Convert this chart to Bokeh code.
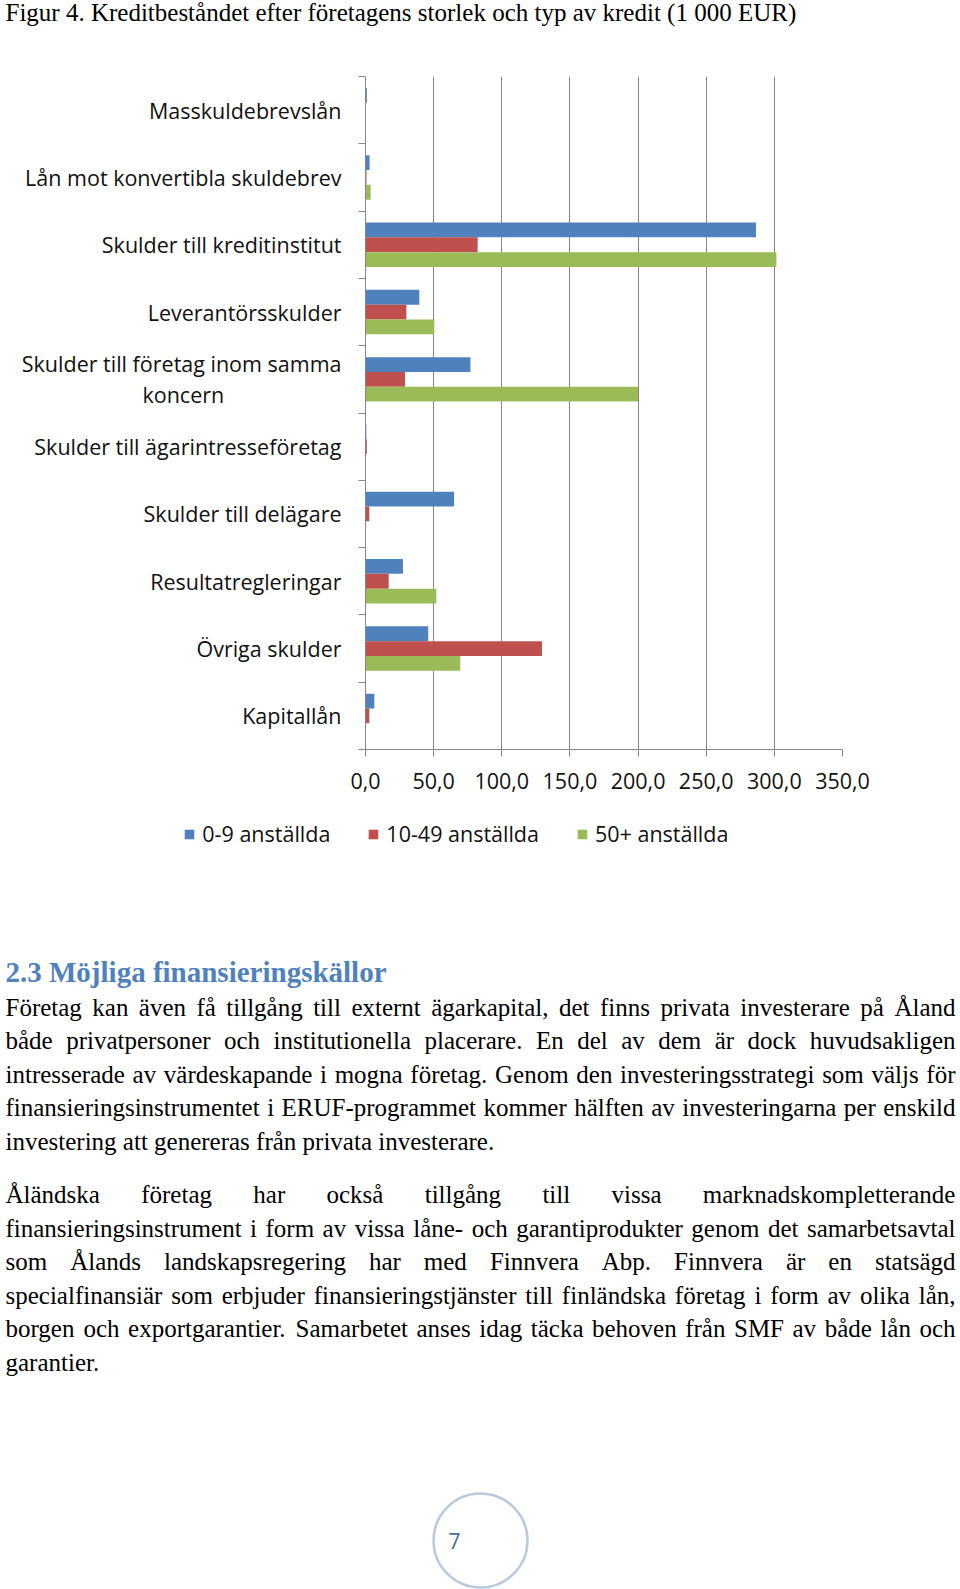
import numpy as np
from bokeh.plotting import figure
from bokeh.models import Range1d, FixedTicker, Legend, LegendItem, ColumnDataSource
from bokeh.layouts import column
from bokeh.core.properties import value
from bokeh.embed import file_html
from bokeh.resources import INLINE

# ---------------- data ----------------
NBSP = "\u00a0"
categories = [
    "Masskuldebrevslån",
    "Lån mot konvertibla skuldebrev",
    "Skulder till kreditinstitut",
    "Leverantörsskulder",
    "Skulder till företag inom samma\nkoncern" + NBSP * 21,
    "Skulder till ägarintresseföretag",
    "Skulder till delägare",
    "Resultatregleringar",
    "Övriga skulder",
    "Kapitallån",
]
series_names = ["0-9 anställda", "10-49 anställda", "50+ anställda"]
emp_0_9 = [1.0, 3.0, 286.5, 39.5, 77.0, 0.6, 65.0, 27.5, 46.0, 6.5]
emp_10_49 = [0.0, 0.7, 82.3, 30.0, 29.0, 1.0, 2.8, 17.0, 129.5, 2.8]
emp_50_plus = [0.0, 3.8, 301.5, 50.5, 200.0, 0.0, 0.0, 52.0, 69.5, 0.0]
x_ticks = [0, 50, 100, 150, 200, 250, 300, 350]
x_tick_labels = ["0,0", "50,0", "100,0", "150,0", "200,0", "250,0", "300,0", "350,0"]

title_text = "Figur 4. Kreditbeståndet efter företagens storlek och typ av kredit (1 000 EUR)"
heading_text = "2.3 Möjliga finansieringskällor"
para1 = [
    "Företag kan även få tillgång till externt ägarkapital, det finns privata investerare på Åland",
    "både privatpersoner och institutionella placerare. En del av dem är dock huvudsakligen",
    "intresserade av värdeskapande i mogna företag. Genom den investeringsstrategi som väljs för",
    "finansieringsinstrumentet i ERUF-programmet kommer hälften av investeringarna per enskild",
    "investering att genereras från privata investerare.",
]
para2 = [
    "Åländska företag har också tillgång till vissa marknadskompletterande",
    "finansieringsinstrument i form av vissa låne- och garantiprodukter genom det samarbetsavtal",
    "som Ålands landskapsregering har med Finnvera Abp. Finnvera är en statsägd",
    "specialfinansiär som erbjuder finansieringstjänster till finländska företag i form av olika lån,",
    "borgen och exportgarantier. Samarbetet anses idag täcka behoven från SMF av både lån och",
    "garantier.",
]
page_number = "7"

# ---------------- styles ----------------
COLORS = ["#4F81BD", "#C0504D", "#9BBB59"]
GRID = "#868686"
SANS = "Open Sans"
SERIF = "Liberation Serif"
CHART_FS = "21.5px"
BODY_FS = 25.0
W = 960

# Times / Liberation Serif advance widths (1/1000 em) for justification
TIMES = {" ": 250, "a": 444, "b": 500, "c": 444, "d": 500, "e": 444, "f": 333, "g": 500,
         "h": 500, "i": 278, "j": 278, "k": 500, "l": 278, "m": 778, "n": 500, "o": 500,
         "p": 500, "q": 500, "r": 333, "s": 389, "t": 278, "u": 500, "v": 500, "w": 722,
         "x": 500, "y": 500, "z": 444, "å": 444, "ä": 444, "ö": 500, "é": 444,
         "A": 722, "B": 667, "C": 667, "D": 722, "E": 611, "F": 556, "G": 722, "H": 722,
         "I": 333, "J": 389, "K": 722, "L": 611, "M": 889, "N": 722, "O": 722, "P": 556,
         "R": 667, "S": 556, "T": 611, "U": 722, "V": 722, "Å": 722, "Ä": 722, "Ö": 722,
         ".": 250, ",": 250, "-": 333, "(": 333, ")": 333}


def em_width(s):
    return sum(TIMES.get(ch, 500) for ch in s) / 1000.0


def page_fig(height):
    f = figure(width=W, height=height, x_range=Range1d(0, W), y_range=Range1d(height, 0),
               output_backend="svg", toolbar_location=None, min_border=0,
               x_axis_location=None, y_axis_location=None, outline_line_color=None,
               frame_align=False)
    f.grid.visible = False
    return f


# ---------------- head (figure caption) ----------------
HEAD_H = 50
head = page_fig(HEAD_H)
head.text(x=[5], y=[12], text=[title_text], text_font=value(SERIF), text_font_size="25px",
          text_baseline="middle", text_align="left", text_color="#000000")

# ---------------- chart ----------------
n = len(categories)
ypos = np.arange(n)[::-1]          # first category at the top
bar_h = 0.22
offsets = [bar_h, 0.0, -bar_h]

CHART_H = 760
p = figure(width=W, height=CHART_H, x_range=Range1d(0, 350), y_range=Range1d(-0.5, n - 0.5),
           output_backend="svg", toolbar_location=None,
           min_border_left=365, min_border_right=118, min_border_top=26, min_border_bottom=61,
           outline_line_color=None, frame_align=False)

series = [emp_0_9, emp_10_49, emp_50_plus]
sources = []
for vals, off, col in zip(series, offsets, COLORS):
    src = ColumnDataSource(dict(y=ypos + off, right=vals))
    sources.append(src)
    p.hbar(y="y", left=0, right="right", height=bar_h, source=src,
           fill_color=col, line_color=None)

xa = p.xaxis[0]
xa.ticker = FixedTicker(ticks=x_ticks)
xa.major_label_overrides = {t: lab for t, lab in zip(x_ticks, x_tick_labels)}
xa.axis_line_color = GRID
xa.major_tick_line_color = GRID
xa.major_tick_out = 7
xa.major_tick_in = 0
xa.minor_tick_line_color = None
xa.major_label_text_font = SANS
xa.major_label_text_font_size = CHART_FS
xa.major_label_text_color = "#111111"
xa.major_label_standoff = 16

p.xgrid.ticker = FixedTicker(ticks=x_ticks)
p.xgrid.grid_line_color = GRID
p.ygrid.visible = False

ya = p.yaxis[0]
ya.ticker = FixedTicker(ticks=[int(v) for v in ypos],
                        minor_ticks=[float(v) - 0.5 for v in range(n + 1)])
ya.major_label_overrides = {int(yv): c for yv, c in zip(ypos, categories)}
ya.axis_line_color = GRID
ya.major_tick_out = 7
ya.major_tick_in = 0
ya.major_tick_line_color = None
ya.minor_tick_out = 7
ya.minor_tick_in = 0
ya.minor_tick_line_color = GRID
ya.major_label_text_font = SANS
ya.major_label_text_font_size = CHART_FS
ya.major_label_text_color = "#111111"
ya.major_label_text_line_height = 1.06
ya.major_label_standoff = 17

# ---------------- legend strip (below the chart) ----------------
LEG_H = 50
leg = page_fig(LEG_H)
# the series are re-plotted on a hidden range so the legend has real renderers
leg.extra_x_ranges = {"hidden_x": Range1d(0, 350)}
leg.extra_y_ranges = {"hidden_y": Range1d(1000, 1001)}
proxies = []
for src, col in zip(sources, COLORS):
    proxies.append(leg.hbar(y="y", left=0, right="right", height=bar_h, source=src,
                            fill_color=col, line_color=None,
                            x_range_name="hidden_x", y_range_name="hidden_y"))
legend = Legend(items=[LegendItem(label=nm, renderers=[r]) for nm, r in zip(series_names, proxies)],
                orientation="horizontal", location=(183.3, 12),
                glyph_width=12, glyph_height=12, label_standoff=7, spacing=37,
                padding=0, margin=0, border_line_color=None, background_fill_alpha=0,
                label_text_font=SANS, label_text_font_size=CHART_FS, label_text_color="#111111",
                label_height=26)
leg.add_layout(legend, "center")

# ---------------- body text ----------------
BODY_TOP = HEAD_H + CHART_H + LEG_H
BH = 1589 - BODY_TOP
body = page_fig(BH)
off_y = BODY_TOP

body.text(x=[5], y=[971 - off_y], text=[heading_text], text_font=value(SERIF), text_font_size="29px",
          text_font_style="bold", text_baseline="middle", text_align="left", text_color="#4F81BD")

LEFT, RIGHT = 5.0, 955.0
LINE_H = 33.5
xs, ys, ts = [], [], []


def layout_para(lines, y0):
    for k, line in enumerate(lines):
        y = y0 + k * LINE_H
        if k == len(lines) - 1:
            xs.append(LEFT); ys.append(y); ts.append(line)
            continue
        words = line.split(" ")
        widths = [em_width(w) * BODY_FS for w in words]
        gap = (RIGHT - LEFT - sum(widths)) / (len(words) - 1)
        x = LEFT
        for w, wd in zip(words, widths):
            xs.append(x); ys.append(y); ts.append(w)
            x += wd + gap


layout_para(para1, 1006.6 - off_y)
layout_para(para2, 1194.1 - off_y)

body.text(x=xs, y=ys, text=ts, text_font=value(SERIF), text_font_size="%gpx" % BODY_FS,
          text_baseline="middle", text_align="left", text_color="#000000")

body.circle(x=[480], y=[1540 - off_y], radius=47, fill_color=None, line_color="#B9C9DD", line_width=2.5)
body.text(x=[454], y=[1540 - off_y], text=[page_number], text_font=value(SANS), text_font_size="21px",
          text_baseline="middle", text_align="center", text_color="#4A6C9B")

layout = column(head, p, leg, body, spacing=0)
open("out.html", "w").write(file_html(layout, INLINE))
